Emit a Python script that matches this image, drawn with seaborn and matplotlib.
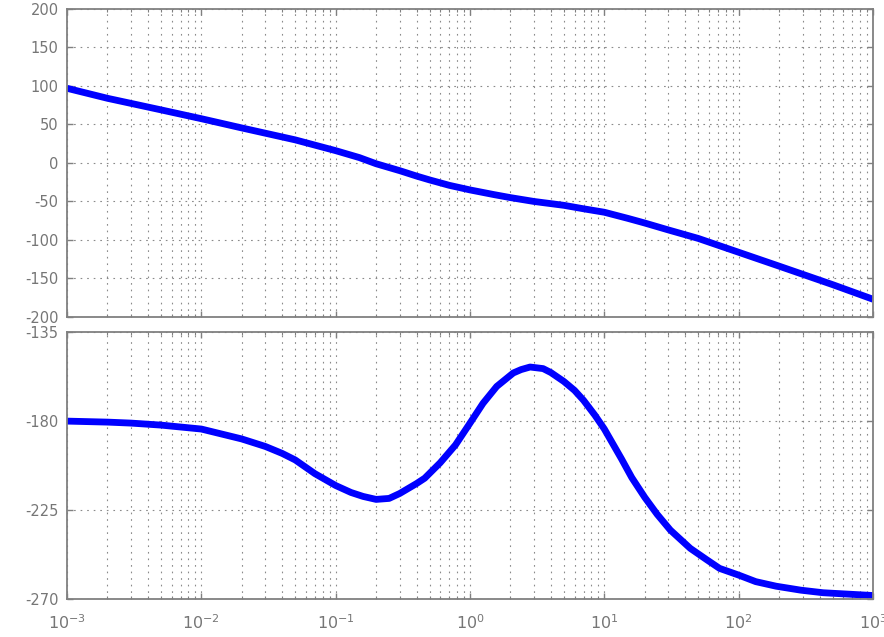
import matplotlib
matplotlib.use("Agg")
import matplotlib.pyplot as plt
import numpy as np
import pandas as pd
import seaborn as sns
from matplotlib.ticker import LogLocator, NullFormatter, FixedLocator, FixedFormatter

# Magnitude response (dB) sampled along the frequency axis
freq_mag = [0.001, 0.002, 0.005, 0.01, 0.02, 0.05, 0.1, 0.15, 0.2, 0.3, 0.4,
            0.5, 0.7, 1.0, 1.5, 2.0, 3.0, 5.0, 7.0, 10.0, 15.0, 20.0, 30.0,
            50.0, 100.0, 200.0, 500.0, 1000.0]
mag_db = [97, 84, 69, 57.5, 45.5, 30, 16, 7, -1, -10, -17,
          -22, -29, -35, -41, -45, -50, -55, -59.5, -64, -72, -78, -87,
          -98, -116, -134, -158, -177]

# Phase response (degrees)
freq_phase = [0.001, 0.002, 0.003, 0.005, 0.01, 0.02, 0.03, 0.04, 0.05, 0.07,
              0.1, 0.13, 0.16, 0.2, 0.25, 0.3, 0.4, 0.46, 0.6, 0.78, 1.0, 1.25,
              1.58, 2.1, 2.4, 2.8, 3.5, 4.0, 5.0, 6.0, 7.0, 8.5, 10.0, 13.4,
              16.0, 20.0, 24.7, 31.0, 43.6, 58.0, 72.0, 100.0, 134.0, 190.0,
              290.0, 425.0, 1000.0]
phase_deg = [-180, -180.5, -181, -182, -184, -189, -192.8, -196.3, -199.6, -206.5,
             -212.5, -216, -218, -219.5, -219, -216.5, -211.5, -208.8, -201, -192,
             -181, -171, -162.5, -155.7, -154, -152.7, -153.5, -155.5, -160, -164.5,
             -169.5, -177, -184, -199, -208.5, -218.5, -227, -235, -244.2, -250,
             -254.3, -257.7, -261, -263.3, -265.3, -266.6, -268]

# Axis tick values and labels
mag_ticks = [-200, -150, -100, -50, 0, 50, 100, 150, 200]
phase_ticks = [-270, -225, -180, -135]
decades = [1e-3, 1e-2, 1e-1, 1e0, 1e1, 1e2, 1e3]
decade_labels = [r"$10^{-3}$", r"$10^{-2}$", r"$10^{-1}$", r"$10^{0}$",
                 r"$10^{1}$", r"$10^{2}$", r"$10^{3}$"]

sns.set_theme(style="white")
plt.rcParams["font.family"] = ["DejaVu Sans"]
plt.rcParams["mathtext.fontset"] = "dejavusans"
plt.rcParams["axes.unicode_minus"] = False

LINE = "#0000ff"
GRAY = "#808080"
GRIDC = "#8a8a8a"

fig = plt.figure(figsize=(8.84, 6.37), dpi=100)
ax_mag = fig.add_axes([0.0758, 0.5024, 0.9118, 0.4835])
ax_ph = fig.add_axes([0.0758, 0.0589, 0.9118, 0.4200])

df_mag = pd.DataFrame({"freq": freq_mag, "mag": mag_db})
df_ph = pd.DataFrame({"freq": freq_phase, "phase": phase_deg})

sns.lineplot(data=df_mag, x="freq", y="mag", ax=ax_mag, color=LINE,
             linewidth=4.9, sort=True, estimator=None,
             solid_joinstyle="round", solid_capstyle="butt")
sns.lineplot(data=df_ph, x="freq", y="phase", ax=ax_ph, color=LINE,
             linewidth=4.9, sort=True, estimator=None,
             solid_joinstyle="round", solid_capstyle="butt")

for ax, yt, ylim in [(ax_mag, mag_ticks, (-200, 200)),
                     (ax_ph, phase_ticks, (-270, -135))]:
    ax.set_xscale("log")
    ax.set_xlim(1e-3, 1e3)
    ax.set_ylim(*ylim)
    ax.yaxis.set_major_locator(FixedLocator(yt))
    ax.xaxis.set_major_locator(FixedLocator(decades))
    ax.xaxis.set_minor_locator(LogLocator(base=10, subs=np.arange(2, 10), numticks=20))
    ax.xaxis.set_minor_formatter(NullFormatter())
    ax.set_xlabel("")
    ax.set_ylabel("")
    for s in ax.spines.values():
        s.set_color(GRAY)
        s.set_linewidth(1.3)
        s.set_visible(True)
    ax.tick_params(axis="both", which="major", direction="in", length=4,
                   width=1.0, color=GRAY, labelcolor="#767676", labelsize=10.5,
                   top=True, right=True, bottom=True, left=True)
    ax.tick_params(axis="x", which="minor", direction="in", length=2.5,
                   width=0.8, color=GRAY, top=True, bottom=True)
    ax.tick_params(axis="y", pad=6)
    ax.grid(True, which="major", axis="both", color=GRIDC,
            linestyle=(0, (1.5, 4.4)), linewidth=0.8)
    ax.grid(True, which="minor", axis="x", color=GRIDC,
            linestyle=(0, (1.5, 4.4)), linewidth=0.8)
    ax.set_axisbelow(True)

ax_mag.xaxis.set_major_formatter(NullFormatter())
ax_ph.xaxis.set_major_formatter(FixedFormatter(decade_labels))
ax_ph.tick_params(axis="x", which="major", pad=10, labelsize=11.5)

fig.savefig("out.png", dpi=100)
